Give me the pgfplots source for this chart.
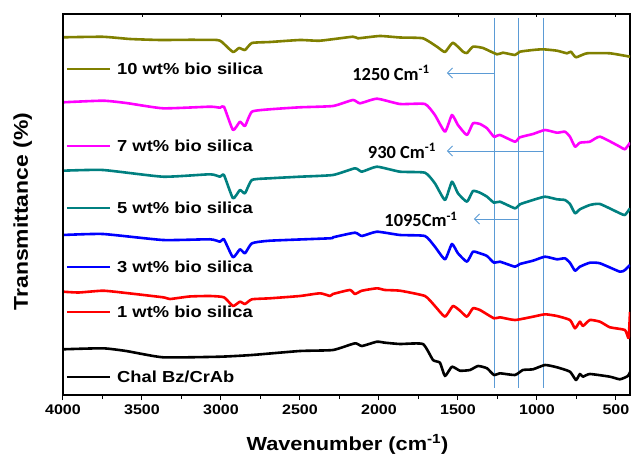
\documentclass[border=0pt]{standalone}
\usepackage{fontspec}
\setmainfont[FakeStretch=1.15]{Liberation Sans}
\newfontfamily\calib{Carlito}
\usepackage{pgfplots}
\pgfplotsset{compat=1.18}
\usetikzlibrary{arrows.meta}
\definecolor{colive}{RGB}{128,128,0}
\definecolor{cmag}{RGB}{255,0,255}
\definecolor{cteal}{RGB}{0,128,128}
\definecolor{cblue}{RGB}{0,0,255}
\definecolor{cred}{RGB}{255,0,0}
\definecolor{cline}{RGB}{91,155,213}
\begin{document}
\begin{tikzpicture}
\begin{axis}[
  width=567bp, height=381bp, scale only axis,
  xmin=411, xmax=4000, x dir=reverse,
  ymin=-395, ymax=-14,
  xtick={500,1000,...,4000},
  minor xtick={750,1250,...,3750},
  xtick pos=bottom,
  ytick=\empty,
  tick align=outside,
  major tick length=5bp, minor tick length=4bp,
  tick style={black, line width=1bp},
  axis line style={line width=1.4bp},
  /pgf/number format/assume math mode=true,
  /pgf/number format/set thousands separator={},
  xticklabel style={font=\bfseries\fontsize{14}{14}\selectfont, yshift=-1bp},
  every axis plot/.append style={line width=2.6bp, line join=round, smooth, tension=0.3},
]
% vertical marker lines
\draw[cline, line width=0.9bp] (axis cs:1272,-18) -- (axis cs:1272,-388);
\draw[cline, line width=0.9bp] (axis cs:1120,-18) -- (axis cs:1120,-388);
\draw[cline, line width=0.9bp] (axis cs:962,-18) -- (axis cs:962,-388);
\draw[cline, line width=0.9bp, -{Straight Barb[length=5bp,width=10bp]}] (axis cs:1272,-73) -- (axis cs:1570,-73);
\draw[cline, line width=0.9bp, -{Straight Barb[length=5bp,width=10bp]}] (axis cs:962,-151) -- (axis cs:1570,-151);
\draw[cline, line width=0.9bp, -{Straight Barb[length=5bp,width=10bp]}] (axis cs:1120,-219) -- (axis cs:1399,-219);
\node[font=\calib\bfseries\fontsize{18.5}{18.5}\selectfont] at (axis cs:1924,-73) {1250 Cm\textsuperscript{-1}};
\node[font=\calib\bfseries\fontsize{18.5}{18.5}\selectfont] at (axis cs:1855,-151) {930 Cm\textsuperscript{-1}};
\node[font=\calib\bfseries\fontsize{18.5}{18.5}\selectfont] at (axis cs:1734,-219) {1095Cm\textsuperscript{-1}};

% 10 wt%
\addplot[colive] coordinates {
(4000,-37.3)(3747,-36.8)(3576,-39)(3386,-40)(3200,-39.8)(3025,-40)(2994,-42)(2924,-52)(2886,-48)(2848,-50)(2804,-43)(2690,-42)(2500,-40)(2373,-40.7)(2165,-36.7)(2133,-38.3)(1994,-36)(1867,-37.5)(1722,-38.3)(1633,-46.7)(1582,-52)(1532,-42.7)(1468,-51.7)(1443,-53)(1405,-46.7)(1342,-48)(1253,-54.3)(1215,-52.7)(1139,-55)(1108,-51.7)(1025,-50)(962,-49.3)(873,-50.7)(810,-53.3)(785,-51.7)(753,-57.3)(684,-53.3)(538,-53.3)(411,-56.7)};
% 7 wt%
\addplot[cmag] coordinates {
(4000,-102.3)(3747,-100.7)(3600,-103)(3367,-108.3)(3070,-106.7)(3006,-107.7)(2981,-106.7)(2924,-130)(2880,-121.7)(2848,-126)(2804,-111.7)(2690,-109.3)(2500,-107.3)(2291,-106)(2165,-100)(2120,-103.3)(2013,-98.7)(1867,-104)(1709,-104)(1646,-115)(1582,-131.7)(1538,-115)(1500,-125)(1443,-135)(1405,-123.3)(1361,-124)(1316,-128.3)(1272,-136.7)(1234,-135)(1139,-141.7)(1108,-137.3)(1025,-134)(949,-130)(873,-132.7)(823,-131.7)(791,-136.7)(759,-146.7)(728,-142.7)(665,-141.7)(601,-136.7)(475,-146.7)(443,-149.3)(411,-142.7)};
% 5 wt%
\addplot[cteal] coordinates {
(4000,-170.7)(3747,-170)(3367,-176.7)(3070,-174.3)(3006,-176.7)(2981,-175)(2924,-198.3)(2880,-190)(2848,-193.3)(2804,-180)(2690,-178.3)(2500,-176.7)(2291,-175)(2152,-168.3)(2108,-171.7)(2013,-166.7)(1867,-171.7)(1709,-172.7)(1646,-183.3)(1582,-200)(1538,-181.7)(1500,-193.3)(1443,-201.7)(1405,-191)(1361,-192.7)(1316,-196.7)(1272,-202.7)(1234,-201.7)(1139,-208.3)(1108,-204.3)(1025,-200)(949,-196.7)(873,-199.3)(823,-200)(791,-204)(759,-213.3)(728,-209.3)(665,-205)(601,-204)(475,-213.3)(443,-215)(411,-208.3)};
% 3 wt%
\addplot[cblue] coordinates {
(4000,-235)(3747,-234)(3367,-240)(3070,-239.3)(3006,-241.7)(2981,-239.3)(2924,-257.3)(2880,-249.3)(2848,-253.3)(2804,-243.3)(2690,-240.7)(2310,-238.3)(2291,-237.3)(2152,-232.7)(2108,-236)(2013,-231.7)(1867,-235)(1709,-236)(1646,-246.7)(1582,-259.3)(1538,-244)(1500,-253.3)(1443,-261.7)(1405,-251.7)(1361,-253.3)(1316,-256)(1272,-262.7)(1234,-261.7)(1139,-266.7)(1108,-264)(1025,-260.7)(949,-256.7)(873,-259.3)(823,-258.3)(791,-262.7)(759,-270.7)(728,-266.7)(665,-262.7)(601,-263.3)(475,-271.7)(443,-270)(411,-265)};
% 1 wt%
\addplot[cred] coordinates {
(4000,-291.7)(3900,-292.5)(3747,-290.7)(3600,-293)(3367,-297.3)(3323,-299)(3200,-296.5)(3070,-296)(2981,-297.3)(2924,-306)(2880,-301.7)(2848,-304)(2804,-299.3)(2690,-298.3)(2500,-296)(2373,-293.3)(2310,-296)(2291,-294)(2184,-290)(2152,-294)(2108,-290.7)(2013,-288.3)(1962,-290)(1867,-290.7)(1709,-296)(1646,-306)(1582,-316.7)(1532,-306)(1487,-310.7)(1443,-316.7)(1405,-308.3)(1361,-310)(1272,-318.3)(1234,-317.3)(1139,-320)(1025,-316.7)(949,-314.3)(873,-316)(791,-320)(759,-328.3)(728,-321.7)(709,-326)(665,-320)(601,-321.7)(538,-327.3)(443,-330)(420,-338)(411,-312)};
% Chal Bz/CrAb
\addplot[black] coordinates {
(4000,-349.3)(3747,-348.3)(3600,-351)(3367,-357.3)(3006,-356.7)(2804,-355)(2500,-351)(2291,-350)(2152,-343.3)(2108,-346)(2013,-341.7)(1962,-342.7)(1867,-344)(1722,-344)(1658,-360)(1614,-362.7)(1582,-376)(1538,-366.7)(1487,-370.7)(1424,-370)(1373,-366)(1316,-368.3)(1272,-375)(1234,-373.3)(1139,-375)(1089,-370)(1025,-369.3)(949,-365)(873,-367.3)(791,-371.7)(753,-380)(728,-374)(709,-376.7)(665,-374)(538,-376.7)(475,-379.3)(424,-376)(411,-372)};

% in-plot legend
\draw[colive, line width=2.6bp] (axis cs:3975,-69) -- (axis cs:3703,-69);
\draw[cmag, line width=2.6bp] (axis cs:3975,-146) -- (axis cs:3703,-146);
\draw[cteal, line width=2.6bp] (axis cs:3975,-208) -- (axis cs:3703,-208);
\draw[cblue, line width=2.6bp] (axis cs:3975,-267) -- (axis cs:3703,-267);
\draw[cred, line width=2.6bp] (axis cs:3975,-312) -- (axis cs:3703,-312);
\draw[black, line width=2.6bp] (axis cs:3975,-377) -- (axis cs:3703,-377);
\begin{scope}[every node/.style={anchor=west, inner sep=0pt, font=\bfseries\fontsize{16}{16}\selectfont}]
\node at (axis cs:3658,-69) {10 wt\% bio silica};
\node at (axis cs:3658,-146) {7 wt\% bio silica};
\node at (axis cs:3658,-208) {5 wt\% bio silica};
\node at (axis cs:3658,-267) {3 wt\% bio silica};
\node at (axis cs:3658,-312) {1 wt\% bio silica};
\node at (axis cs:3658,-377) {Chal Bz/CrAb};
\end{scope}
\end{axis}
% overlay axis: inner ticks on top and left
\begin{axis}[
  width=567bp, height=381bp, scale only axis,
  xmin=411, xmax=4000, x dir=reverse,
  ymin=-395, ymax=-14,
  axis x line*=top, axis y line*=left,
  axis line style={line width=1.4bp, -},
  xtick={500,1000,...,4000}, xticklabels={},
  ytick=\empty, minor ytick={-391,-387,...,-18},
  tick align=inside,
  major tick length=3bp, minor tick length=2bp,
  tick style={black, line width=0.9bp},
]
\end{axis}
\node[anchor=base, font=\bfseries\fontsize{19}{19}\selectfont] at ([shift={(284.5bp,-55bp)}]current axis.south west) {Wavenumber (cm\textsuperscript{-1})};
\node[anchor=base, rotate=90, font=\bfseries\fontsize{20}{20}\selectfont] at ([shift={(-35bp,183.5bp)}]current axis.south west) {Transmittance (\%)};
\pgfresetboundingbox
\path ([shift={(-63bp,-61bp)}]current axis.south west) rectangle ([shift={(1bp,14bp)}]current axis.north east);
\end{tikzpicture}
\end{document}
